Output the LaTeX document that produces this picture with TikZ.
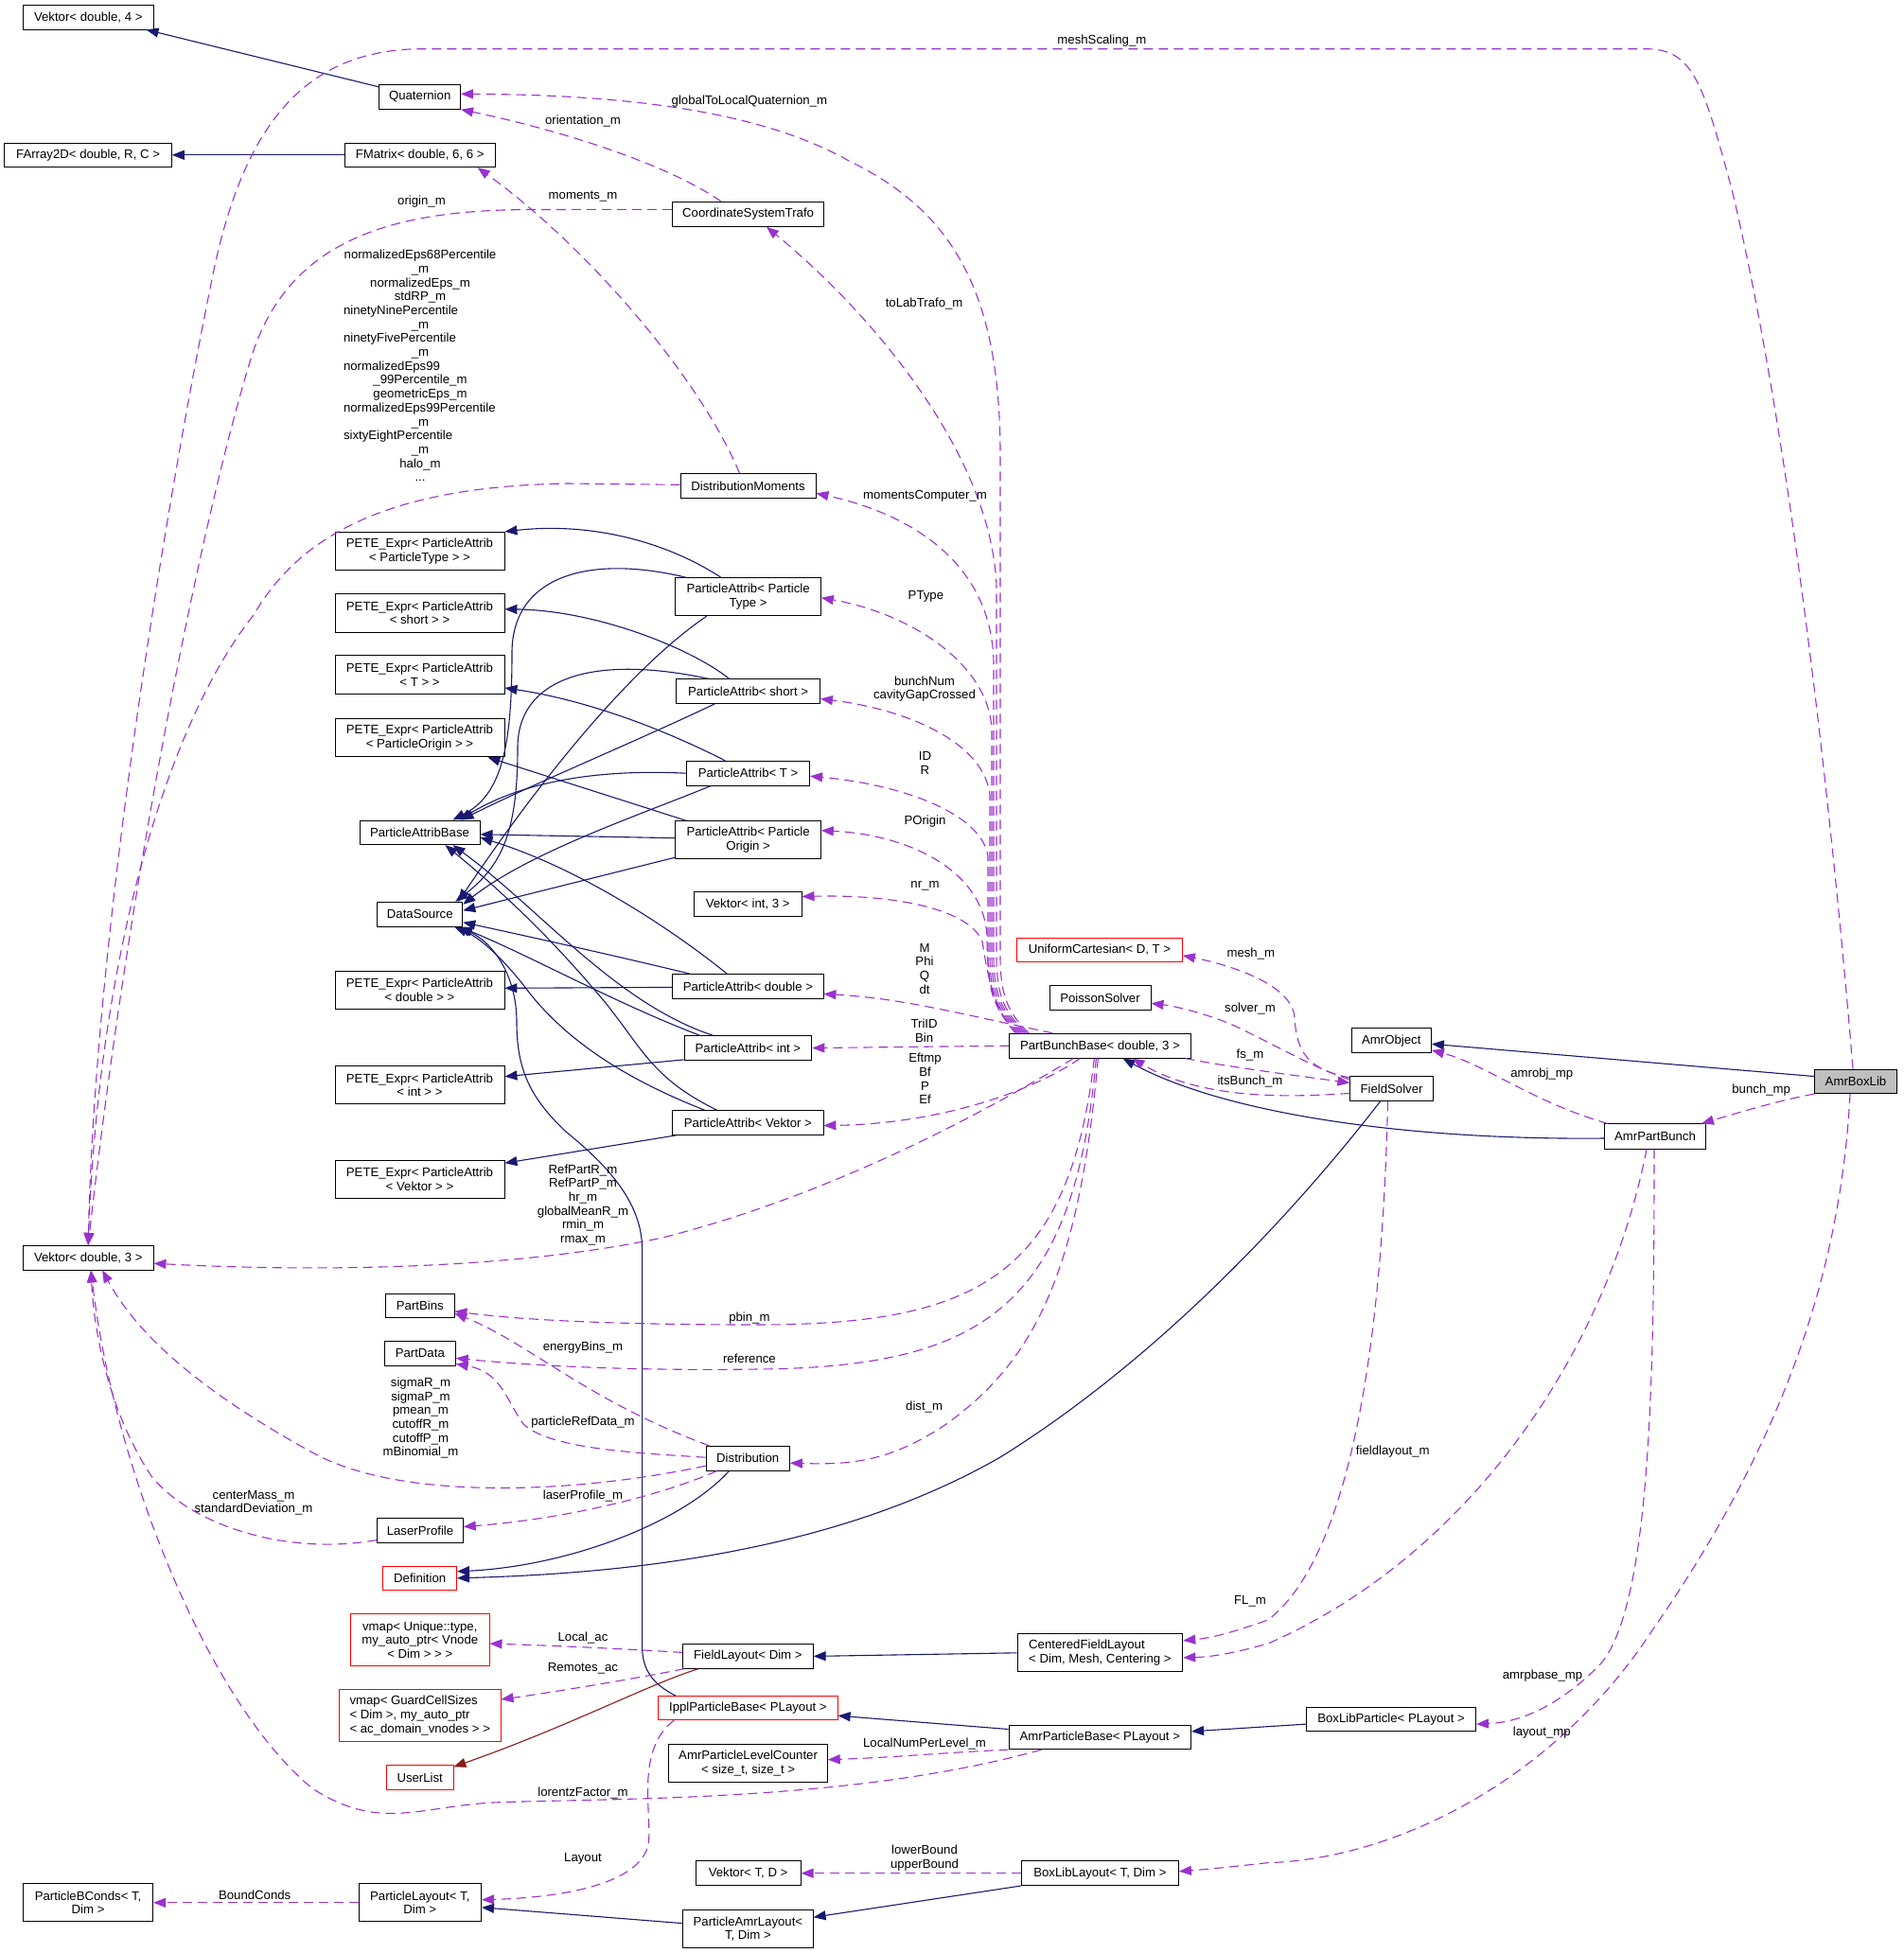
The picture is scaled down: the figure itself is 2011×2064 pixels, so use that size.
\documentclass[tikz,border=0pt]{standalone}
\usepackage{fontspec}
\setmainfont{Liberation Sans}
\usetikzlibrary{arrows.meta,calc}
\definecolor{navy}{HTML}{191970}
\definecolor{purp}{HTML}{9A32CD}
\definecolor{fire}{HTML}{8B1A1A}
\definecolor{boxgray}{HTML}{BFBFBF}
\definecolor{boxred}{HTML}{FF0000}
\newcommand{\dfont}{\fontsize{13.2}{14.7}\selectfont}
\newlength{\lblw}
\setlength{\lblw}{162pt}
\begin{document}
\begin{tikzpicture}[x=1pt,y=-1pt,
  box/.style={draw=black, line width=0.9pt, rectangle, inner sep=0pt, align=center, font=\dfont},
  redbox/.style={box, draw=boxred},
  lbl/.style={inner sep=0pt, align=center, font=\dfont},
  inhedge/.style={draw=navy, line width=1.1pt, -{Triangle[length=13pt,width=10pt]}},
  useedge/.style={draw=purp, line width=1.1pt, dash pattern=on 10pt off 6pt, -{Triangle[length=13pt,width=10pt]}},
  privedge/.style={draw=fire, line width=1.1pt, -{Triangle[length=13pt,width=10pt]}}]
\fill[white] (0,0) rectangle (2011,2064);
\useasboundingbox (0,0) rectangle (2011,2064);

% ---------------- nodes ----------------
\node[box, minimum width=137.5pt, minimum height=25.3pt] (vek4) at (93.3,18.3) {Vektor< double, 4 >};
\node[box, minimum width=85.7pt, minimum height=26pt] (quat) at (443.7,102.3) {Quaternion};
\node[box, minimum width=176.4pt, minimum height=25.7pt] (farr) at (93.1,163.8) {FArray2D< double, R, C >};
\node[box, minimum width=158.9pt, minimum height=25.7pt] (fmat) at (443.7,163.8) {FMatrix< double, 6, 6 >};
\node[box, minimum width=160.4pt, minimum height=26pt] (cst) at (790.6,226.3) {CoordinateSystemTrafo};
\node[box, minimum width=143pt, minimum height=25.3pt] (dm) at (790.5,513.3) {DistributionMoments};
\node[box, minimum width=179pt, minimum height=40.4pt] (petePT) at (443.5,582.5) {PETE\_Expr< ParticleAttrib\\< ParticleType > >};
\node[box, minimum width=179pt, minimum height=40.4pt] (peteS) at (443.5,647.8) {PETE\_Expr< ParticleAttrib\\< short > >};
\node[box, minimum width=179pt, minimum height=40.4pt] (peteT) at (443.5,713) {PETE\_Expr< ParticleAttrib\\< T > >};
\node[box, minimum width=179pt, minimum height=40.4pt] (petePO) at (443.5,779.7) {PETE\_Expr< ParticleAttrib\\< ParticleOrigin > >};
\node[box, minimum width=127.1pt, minimum height=25.7pt] (pab) at (443.5,879.8) {ParticleAttribBase};
\node[box, minimum width=90.1pt, minimum height=26pt] (ds) at (443.8,966.3) {DataSource};
\node[box, minimum width=179pt, minimum height=40.3pt] (peteD) at (443.5,1046.3) {PETE\_Expr< ParticleAttrib\\< double > >};
\node[box, minimum width=179pt, minimum height=40pt] (peteI) at (443.5,1146.7) {PETE\_Expr< ParticleAttrib\\< int > >};
\node[box, minimum width=179pt, minimum height=40pt] (peteV) at (443.5,1246.2) {PETE\_Expr< ParticleAttrib\\< Vektor > >};
\node[box, minimum width=137.4pt, minimum height=25.5pt] (vek3) at (93.3,1329.2) {Vektor< double, 3 >};
\node[box, minimum width=72.3pt, minimum height=25.6pt] (pbins) at (443.8,1379.8) {PartBins};
\node[box, minimum width=75pt, minimum height=25.5pt] (pdata) at (443.8,1430.4) {PartData};
\node[box, minimum width=90.6pt, minimum height=25.6pt] (laser) at (444,1617.5) {LaserProfile};
\node[redbox, minimum width=77.7pt, minimum height=25.7pt] (defn) at (443.7,1667.8) {Definition};
\node[redbox, minimum width=146.5pt, minimum height=54.9pt] (vmapU) at (443.8,1733) {vmap< Unique::type,\\my\_auto\_ptr< Vnode\\< Dim > > >};
\node[redbox, align=left, minimum width=170.5pt, minimum height=54.5pt] (vmapG) at (443.8,1813) {vmap< GuardCellSizes\\< Dim >, my\_auto\_ptr\\< ac\_domain\_vnodes > >};
\node[redbox, minimum width=70.5pt, minimum height=25.7pt] (ulist) at (443.7,1878.5) {UserList};
\node[box, minimum width=137pt, minimum height=40pt] (pbc) at (93.1,2010.8) {ParticleBConds< T,\\Dim >};
\node[box, minimum width=129.5pt, minimum height=40pt] (playout) at (443.8,2010.8) {ParticleLayout< T,\\Dim >};
\node[box, minimum width=153.5pt, minimum height=40pt] (paPT) at (790.6,630.7) {ParticleAttrib< Particle\\Type >};
\node[box, minimum width=151.8pt, minimum height=25.6pt] (paS) at (790.6,730.5) {ParticleAttrib< short >};
\node[box, minimum width=130.1pt, minimum height=25.7pt] (paT) at (790.6,817.2) {ParticleAttrib< T >};
\node[box, minimum width=153.5pt, minimum height=40pt] (paPO) at (790.6,887.7) {ParticleAttrib< Particle\\Origin >};
\node[box, minimum width=113.7pt, minimum height=25.6pt] (vekI3) at (790.2,955.5) {Vektor< int, 3 >};
\node[box, minimum width=159.2pt, minimum height=25.5pt] (paD) at (790.4,1042.4) {ParticleAttrib< double >};
\node[box, minimum width=134.9pt, minimum height=25.8pt] (paI) at (790.4,1107.6) {ParticleAttrib< int >};
\node[box, minimum width=159.2pt, minimum height=25.8pt] (paV) at (790.4,1186.5) {ParticleAttrib< Vektor >};
\node[box, minimum width=88.5pt, minimum height=25.7pt] (dist) at (790.2,1541.2) {Distribution};
\node[box, minimum width=137.5pt, minimum height=25.6pt] (flay) at (790.4,1750.4) {FieldLayout< Dim >};
\node[redbox, minimum width=189.5pt, minimum height=25pt] (ippl) at (790.4,1805.2) {IpplParticleBase< PLayout >};
\node[box, minimum width=167.4pt, minimum height=39.9pt] (aplc) at (790.6,1863.7) {AmrParticleLevelCounter\\< size\_t, size\_t >};
\node[box, minimum width=111pt, minimum height=25.7pt] (vekTD) at (790.6,1979.7) {Vektor< T, D >};
\node[box, minimum width=137.5pt, minimum height=39.9pt] (pamr) at (790.4,2038.6) {ParticleAmrLayout<\\T, Dim >};
\node[redbox, minimum width=174.8pt, minimum height=25.7pt] (ucart) at (1162,1003.8) {UniformCartesian< D, T >};
\node[box, minimum width=107.1pt, minimum height=25.4pt] (poisson) at (1162.5,1054.4) {PoissonSolver};
\node[box, minimum width=191.2pt, minimum height=25.8pt] (pbb) at (1162.4,1105.2) {PartBunchBase< double, 3 >};
\node[box, align=left, minimum width=174.8pt, minimum height=39.9pt] (cfl) at (1162.4,1746.8) {CenteredFieldLayout\\< Dim, Mesh, Centering >};
\node[box, minimum width=192.5pt, minimum height=25.7pt] (apb) at (1162.3,1835.8) {AmrParticleBase< PLayout >};
\node[box, minimum width=166.1pt, minimum height=25.7pt] (bll) at (1162.4,1979.7) {BoxLibLayout< T, Dim >};
\node[box, minimum width=84.3pt, minimum height=25.7pt] (amrobj) at (1470.3,1099.6) {AmrObject};
\node[box, minimum width=87.3pt, minimum height=26.2pt] (fsolv) at (1470.5,1150.4) {FieldSolver};
\node[box, minimum width=107pt, minimum height=26.2pt] (apbunch) at (1749,1201) {AmrPartBunch};
\node[box, fill=boxgray, minimum width=86.8pt, minimum height=25.6pt] (amrbox) at (1961,1142.8) {AmrBoxLib};
\node[box, minimum width=178.8pt, minimum height=25.4pt] (blp) at (1470.1,1817.1) {BoxLibParticle< PLayout >};

% ---------------- inheritance edges ----------------
\draw[inhedge] ($(quat.north west)+(0,3)$) -- ($(vek4.south east)+(-8,0)$);
\draw[inhedge] (fmat.west) -- (farr.east);
\draw[inhedge] ($(amrbox.north west)+(0,8)$) -- ($(amrobj.north east)+(0,17)$);
\draw[inhedge] ($(apbunch.west)+(0,2)$) .. controls (1500,1205) and (1300,1180) .. ($(pbb.south east)+(-72,0)$);
\draw[inhedge] ($(fsolv.south)+(-12,0)$) .. controls (1400,1240) and (1250,1420) .. (1057,1540) .. controls (900,1630) and (700,1662) .. (defn.east);
\draw[inhedge] ($(dist.south west)+(25,0)$) .. controls (720,1610) and (600,1655) .. ($(defn.east)+(0,-7)$);
\draw[inhedge] (cfl.west) -- (flay.east);
\draw[privedge] ($(flay.south west)+(17,0)$) .. controls (690,1778) and (600,1825) .. ($(ulist.north east)+(0,2)$);
\draw[inhedge] ($(apb.north west)+(0,5)$) -- ($(ippl.east)+(0,8)$);
\draw[inhedge] ($(blp.west)+(0,5)$) -- ($(apb.east)+(0,-6)$);
\draw[inhedge] (bll.south west) -- ($(pamr.north east)+(0,8)$);
\draw[inhedge] ($(pamr.west)+(0,-6)$) -- ($(playout.east)+(0,5)$);
\draw[inhedge] ($(ippl.north west)+(19,0)$) .. controls (690,1780) and (678.6,1765) .. (678.6,1740) -- (678.6,1320) .. controls (678.6,1270) and (640,1230) .. (598,1196) .. controls (560,1160) and (546,1130) .. (546,1080) .. controls (546,1030) and (520,995) .. ($(ds.south east)+(-5,0)$);

% ParticleAttrib cluster
\draw[inhedge] ($(paPT.north west)+(48.5,0)$) .. controls (700,570) and (620,552) .. (petePT.north east);
\draw[inhedge] ($(paPT.north west)+(11.6,0)$) .. controls (620,585) and (541,610) .. (541,690) .. controls (541,790) and (530,840) .. ($(pab.north east)+(-29,0)$);
\draw[inhedge] ($(paPT.south west)+(33.4,0)$) .. controls (660,710) and (560,840) .. ($(ds.north east)+(-5,0)$);
\draw[inhedge] ($(paS.north west)+(56.3,0)$) .. controls (730,685) and (630,645) .. ($(peteS.east)+(0,-4)$);
\draw[inhedge] ($(paS.north west)+(34.3,0)$) .. controls (620,690) and (547,720) .. (547,790) .. controls (547,880) and (530,915) .. ($(ds.north east)+(-8,0)$);
\draw[inhedge] ($(paS.south west)+(41.2,0)$) .. controls (680,780) and (560,830) .. ($(pab.north east)+(-20,0)$);
\draw[inhedge] ($(paT.north west)+(41.2,0)$) .. controls (700,770) and (620,740) .. ($(peteT.east)+(0,14)$);
\draw[inhedge] (paT.west) .. controls (620,812) and (545,830) .. ($(pab.north east)+(-22,0)$);
\draw[inhedge] ($(paT.south west)+(26,0)$) .. controls (680,860) and (560,900) .. ($(ds.north east)+(0,3)$);
\draw[inhedge] ($(paPO.north west)+(11.7,0)$) -- ($(petePO.south east)+(-18,0)$);
\draw[inhedge] ($(paPO.west)+(0,-2)$) -- ($(pab.east)+(0,2)$);
\draw[inhedge] ($(paPO.south west)+(0,-2)$) -- ($(ds.east)+(0,-4)$);
\draw[inhedge] ($(paD.west)+(0,1)$) -- ($(peteD.east)+(0,-2)$);
\draw[inhedge] ($(paD.north west)+(58,0)$) .. controls (720,990) and (620,920) .. ($(pab.south east)+(0,-8)$);
\draw[inhedge] ($(paD.north west)+(19,0)$) .. controls (650,1010) and (560,990) .. ($(ds.south east)+(0,-5)$);
\draw[inhedge] ($(paI.south west)+(0,-1)$) -- ($(peteI.east)+(0,-9)$);
\draw[inhedge] ($(paI.north west)+(30.8,0)$) .. controls (650,1060) and (570,960) .. ($(pab.south east)+(-29,0)$);
\draw[inhedge] ($(paI.north west)+(17,0)$) .. controls (650,1060) and (560,1010) .. ($(ds.south east)+(-3,0)$);
\draw[inhedge] ($(paV.south west)+(4,0)$) -- ($(peteV.east)+(0,-17)$);
\draw[inhedge] ($(paV.north west)+(47.2,0)$) .. controls (690,1140) and (680,1110) .. (640,1060) .. controls (590,1000) and (540,950) .. ($(pab.south east)+(-37,0)$);
\draw[inhedge] ($(paV.north west)+(34.2,0)$) .. controls (660,1140) and (600,1100) .. (560,1050) .. controls (530,1010) and (505,990) .. ($(ds.south east)+(-9,0)$);

% ---------------- usage edges ----------------
\draw[useedge] ($(amrbox.north)+(-3,0)$) .. controls (1935,850) and (1890,450) .. (1830,200) .. controls (1800,90) and (1790,52) .. (1740,51.7) -- (440,51.7) .. controls (330,55) and (260,120) .. (225,290) .. controls (170,560) and (100,1000) .. ($(vek3.north west)+(69,0)$);
\draw[useedge] ($(cst.west)+(0,-5)$) -- (560,221.5) .. controls (420,222) and (310,250) .. (268,370) .. controls (220,520) and (140,900) .. ($(vek3.north west)+(69,0)$);
\draw[useedge] ($(dm.west)+(0,-1)$) -- (600,511) .. controls (420,514) and (320,560) .. (268,650) .. controls (180,760) and (105,1000) .. ($(vek3.north west)+(69,0)$);
\draw[useedge] ($(cst.north west)+(52,0)$) .. controls (700,170) and (580,135) .. (quat.south east);
\draw[useedge] ($(dm.north west)+(63,0)$) .. controls (740,400) and (620,260) .. ($(fmat.south east)+(-19,0)$);

\draw[useedge] ($(pbb.north west)+(21,0)$) .. controls (1064,1070) and (1057,1050) .. (1057,1010) -- (1057,480) .. controls (1057,300) and (1000,220) .. (897,170) .. controls (800,115) and (650,100) .. ($(quat.east)+(0,-3)$);
\draw[useedge] ($(pbb.north west)+(19,0)$) .. controls (1060,1070) and (1053,1050) .. (1053,1010) -- (1053,620) .. controls (1048,480) and (920,330) .. ($(cst.south west)+(100,0)$);
\draw[useedge] ($(pbb.north west)+(17,0)$) .. controls (1058,1070) and (1050,1050) .. (1050,1010) -- (1050,700) .. controls (1048,600) and (970,545) .. ($(dm.east)+(0,8)$);
\draw[useedge] ($(pbb.north west)+(15,0)$) .. controls (1056,1070) and (1048,1050) .. (1048,1010) -- (1048,770) .. controls (1044,700) and (960,648) .. ($(paPT.east)+(0,1)$);
\draw[useedge] ($(pbb.north west)+(13,0)$) .. controls (1054,1070) and (1046,1050) .. (1046,1010) -- (1046,840) .. controls (1040,785) and (960,750) .. ($(paS.east)+(0,8)$);
\draw[useedge] ($(pbb.north west)+(11,0)$) .. controls (1052,1070) and (1044,1050) .. (1044,1010) -- (1044,905) .. controls (1038,862) and (960,830) .. ($(paT.east)+(0,3)$);
\draw[useedge] ($(pbb.north west)+(9,0)$) .. controls (1050,1070) and (1043,1040) .. (1043,990) .. controls (1040,920) and (960,882) .. ($(paPO.east)+(0,-10)$);
\draw[useedge] ($(pbb.north west)+(7,0)$) .. controls (1048,1065) and (1042,1020) .. (1038,995) .. controls (1025,962) and (950,945) .. ($(vekI3.east)+(0,-8)$);
\draw[useedge] ($(pbb.north west)+(46,0)$) .. controls (1000,1068) and (950,1055) .. ($(paD.east)+(0,8)$);
\draw[useedge] (pbb.west) -- (paI.east);
\draw[useedge] ($(pbb.south west)+(75,0)$) .. controls (1080,1160) and (980,1188) .. ($(paV.east)+(0,3)$);
\draw[useedge] ($(pbb.south west)+(68,0)$) .. controls (1000,1200) and (850,1270) .. (700,1308) .. controls (550,1340) and (350,1345) .. ($(vek3.east)+(0,6)$);
\draw[useedge] ($(pbb.south west)+(90,0)$) .. controls (1130,1350) and (1030,1400) .. (800,1400) .. controls (650,1400) and (550,1395) .. ($(pbins.east)+(0,6)$);
\draw[useedge] ($(pbb.south west)+(92,0)$) .. controls (1135,1380) and (1040,1445) .. (800,1447) .. controls (650,1449) and (550,1442) .. ($(pdata.east)+(0,5)$);
\draw[useedge] ($(pbb.south west)+(94,0)$) .. controls (1140,1350) and (1090,1440) .. (1000,1505) .. controls (940,1545) and (900,1548) .. ($(dist.east)+(0,5)$);

\draw[useedge] ($(pbb.south east)+(-6,0)$) .. controls (1300,1128) and (1380,1138) .. ($(fsolv.west)+(0,-6)$);
\draw[useedge] ($(fsolv.west)+(0,5)$) .. controls (1360,1160) and (1270,1162) .. ($(pbb.south east)+(-62,0)$);
\draw[useedge] ($(fsolv.north west)+(0,2)$) .. controls (1380,1130) and (1370,1110) .. (1368,1075) .. controls (1365,1040) and (1300,1020) .. ($(ucart.east)+(0,6)$);
\draw[useedge] ($(fsolv.north west)+(0,4)$) .. controls (1390,1130) and (1340,1100) .. (1300,1082) .. controls (1270,1070) and (1240,1063) .. ($(poisson.east)+(0,6)$);
\draw[useedge] ($(fsolv.south)+(-4,0)$) .. controls (1460,1450) and (1420,1650) .. (1340,1712) .. controls (1300,1726) and (1280,1731) .. ($(cfl.east)+(0,-13)$);
\draw[useedge] ($(apbunch.south)+(-9,0)$) .. controls (1700,1420) and (1560,1640) .. (1340,1737) .. controls (1300,1748) and (1280,1751) .. ($(cfl.east)+(0,5)$);
\draw[useedge] ($(apbunch.north west)+(4,0)$) .. controls (1620,1165) and (1570,1125) .. ($(amrobj.south east)+(0,-3)$);
\draw[useedge] (amrbox.south west) .. controls (1880,1163) and (1840,1175) .. ($(apbunch.north east)+(-5,0)$);
\draw[useedge] ($(amrbox.south)+(-6,0)$) .. controls (1945,1350) and (1880,1530) .. (1746,1723) .. controls (1640,1885) and (1470,1965) .. (1340,1968.6) .. controls (1300,1973) and (1270,1976) .. ($(bll.east)+(0,-2)$);
\draw[useedge] ($(apbunch.south)+(-1,0)$) .. controls (1748,1450) and (1745,1700) .. (1690,1760) .. controls (1650,1800) and (1610,1820) .. ($(blp.east)+(0,5)$);

\draw[useedge] ($(dist.north west)+(4,0)$) .. controls (620,1480) and (560,1420) .. ($(pbins.east)+(0,8)$);
\draw[useedge] ($(dist.west)+(0,-1)$) .. controls (660,1535) and (580,1530) .. (553,1505) .. controls (535,1480) and (530,1450) .. ($(pdata.east)+(0,11)$);
\draw[useedge] ($(dist.west)+(0,8)$) .. controls (600,1580) and (420,1585) .. (330,1535) .. controls (230,1480) and (150,1420) .. ($(vek3.south west)+(84,0)$);
\draw[useedge] ($(dist.south west)+(12,0)$) .. controls (700,1580) and (600,1605) .. ($(laser.east)+(0,-4)$);
\draw[useedge] ($(laser.west)+(0,10)$) .. controls (300,1645) and (200,1610) .. (160,1560) .. controls (120,1500) and (100,1420) .. ($(vek3.south west)+(72,0)$);
\draw[useedge] ($(apb.south west)+(35,0)$) .. controls (900,1905) and (650,1900) .. (520,1905) .. controls (440,1910) and (400,1935) .. (330,1890) .. controls (220,1800) and (120,1550) .. ($(vek3.south west)+(72,0)$);
\draw[useedge] ($(flay.west)+(0,-4)$) .. controls (650,1742) and (580,1739) .. ($(vmapU.east)+(0,4)$);
\draw[useedge] ($(flay.south west)+(2,0)$) .. controls (660,1776) and (580,1789) .. ($(vmapG.east)+(0,-17)$);
\draw[useedge] ($(ippl.south west)+(17,0)$) .. controls (670,1850) and (690,1920) .. (685,1950) .. controls (675,1990) and (600,2005) .. ($(playout.east)+(0,-3)$);
\draw[useedge] (apb.south west) .. controls (1000,1852) and (950,1857) .. ($(aplc.east)+(0,-4)$);
\draw[useedge] (playout.west) -- (pbc.east);
\draw[useedge] (bll.west) -- (vekTD.east);

% ---------------- edge labels ----------------
\node[lbl] (lmesh) at (1164.4,43.3) {meshScaling\_m};
\node[lbl] (lglob) at (791.9,106.7) {globalToLocalQuaternion\_m};
\node[lbl] (lorient) at (616,127.7) {orientation\_m};
\node[lbl] (lorigin) at (445.5,212.7) {origin\_m};
\node[lbl] (lmoments) at (616,207.7) {moments\_m};
\node[lbl] (lnorm) at (444,386.5) {\makebox[\lblw][c]{normalizedEps68Percentile}\\\makebox[\lblw][c]{\_m}\\\makebox[\lblw][c]{normalizedEps\_m}\\\makebox[\lblw][c]{stdRP\_m}\\\makebox[\lblw][l]{ninetyNinePercentile}\\\makebox[\lblw][c]{\_m}\\\makebox[\lblw][l]{ninetyFivePercentile}\\\makebox[\lblw][c]{\_m}\\\makebox[\lblw][l]{normalizedEps99}\\\makebox[\lblw][c]{\_99Percentile\_m}\\\makebox[\lblw][c]{geometricEps\_m}\\\makebox[\lblw][l]{normalizedEps99Percentile}\\\makebox[\lblw][c]{\_m}\\\makebox[\lblw][l]{sixtyEightPercentile}\\\makebox[\lblw][c]{\_m}\\\makebox[\lblw][c]{halo\_m}\\\makebox[\lblw][c]{...}};
\node[lbl] (ltolab) at (976.6,320.7) {toLabTrafo\_m};
\node[lbl] (lmomc) at (977.5,524.3) {momentsComputer\_m};
\node[lbl] (lptype) at (978.4,630.7) {PType};
\node[lbl] (lbunch) at (977,728) {bunchNum\\cavityGapCrossed};
\node[lbl] (lidr) at (977.5,806.5) {ID\\R};
\node[lbl] (lporig) at (977.5,868.3) {POrigin};
\node[lbl] (lnr) at (977.5,936.7) {nr\_m};
\node[lbl] (lmeshm) at (1321.8,1008) {mesh\_m};
\node[lbl] (lmphi) at (977,1023.7) {M\\Phi\\Q\\dt};
\node[lbl] (lsolver) at (1321,1066.5) {solver\_m};
\node[lbl] (ltri) at (976.6,1089.2) {TriID\\Bin};
\node[lbl] (lfs) at (1321,1114.7) {fs\_m};
\node[lbl] (lits) at (1321,1143.3) {itsBunch\_m};
\node[lbl] (left) at (977.5,1140) {Eftmp\\Bf\\P\\Ef};
\node[lbl] (lamrobj) at (1629.3,1135.4) {amrobj\_mp};
\node[lbl] (lbunchmp) at (1861.2,1152) {bunch\_mp};
\node[lbl] (lref) at (616,1273.4) {RefPartR\_m\\RefPartP\_m\\hr\_m\\globalMeanR\_m\\rmin\_m\\rmax\_m};
\node[lbl] (lpbin) at (791.9,1392.6) {pbin\_m};
\node[lbl] (lebins) at (616,1423.6) {energyBins\_m};
\node[lbl] (lreference) at (791.9,1435.6) {reference};
\node[lbl] (ldist) at (976.6,1486.6) {dist\_m};
\node[lbl] (lsigma) at (444.5,1498.6) {sigmaR\_m\\sigmaP\_m\\pmean\_m\\cutoffR\_m\\cutoffP\_m\\mBinomial\_m};
\node[lbl] (lprd) at (616,1502.8) {particleRefData\_m};
\node[lbl] (lfieldl) at (1471.8,1534.4) {fieldlayout\_m};
\node[lbl] (lcenter) at (268,1588.2) {centerMass\_m\\standardDeviation\_m};
\node[lbl] (llaser) at (616,1580.7) {laserProfile\_m};
\node[lbl] (lflm) at (1321,1692.5) {FL\_m};
\node[lbl] (llocal) at (616,1730.6) {Local\_ac};
\node[lbl] (lremote) at (616,1763.6) {Remotes\_ac};
\node[lbl] (lamrp) at (1630,1771.3) {amrpbase\_mp};
\node[lbl] (llayoutmp) at (1629.3,1831.4) {layout\_mp};
\node[lbl] (llocnum) at (977,1842.7) {LocalNumPerLevel\_m};
\node[lbl] (llorentz) at (616,1894.7) {lorentzFactor\_m};
\node[lbl] (lbound) at (977,1963.8) {lowerBound\\upperBound};
\node[lbl] (llayout) at (616,1964.8) {Layout};
\node[lbl] (lbc) at (269.2,2002.3) {BoundConds};
\end{tikzpicture}
\end{document}
